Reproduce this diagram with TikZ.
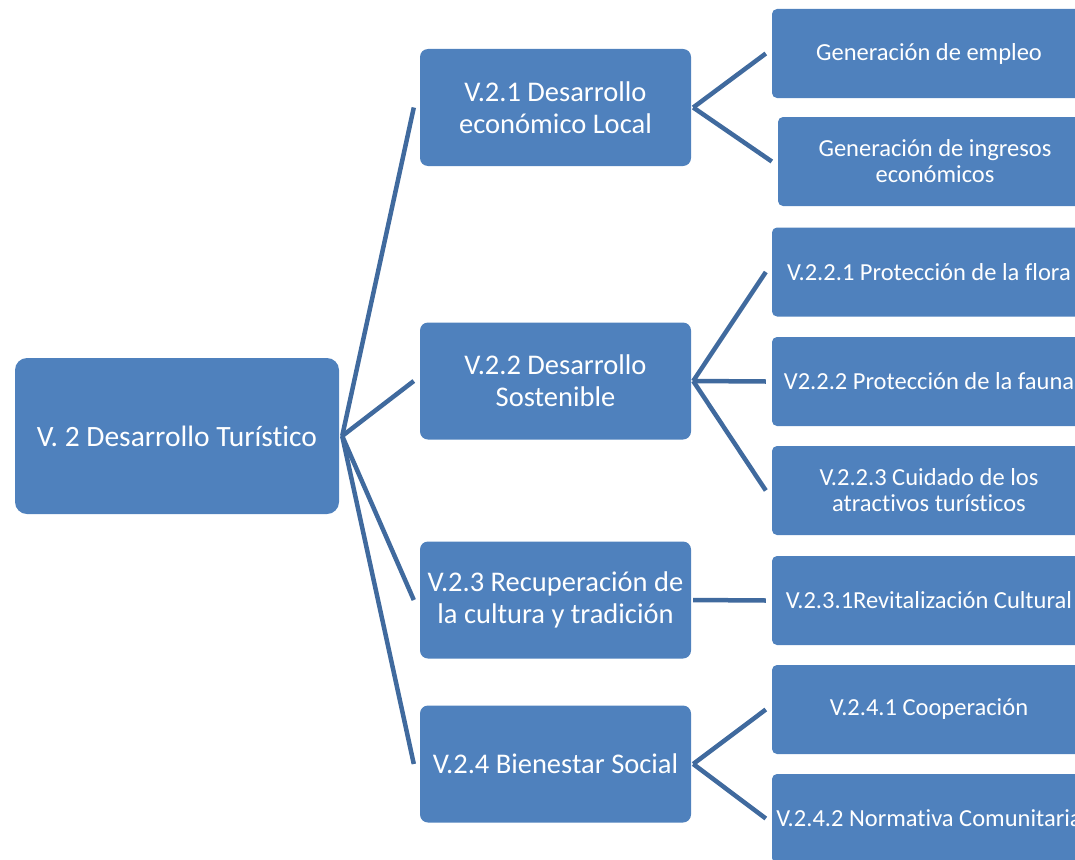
\documentclass[tikz,border=0pt]{standalone}
\usepackage{fontspec}
\setmainfont{Carlito}[Ligatures=NoCommon]
\usepackage{tikz}
\usepackage{xcolor}
\usetikzlibrary{positioning, calc}

\definecolor{boxblue}{RGB}{79,129,189}
\definecolor{lineblue}{RGB}{64,106,158}

\begin{document}
\begin{tikzpicture}[x=1pt, y=-1pt,
    rootbox/.style={rectangle, rounded corners=12pt, fill=boxblue, text=white,
        minimum width=324pt, minimum height=156pt, align=center,
        font=\fontsize{29.5}{32}\selectfont},
    midbox/.style={rectangle, rounded corners=8pt, fill=boxblue, text=white,
        minimum width=271pt, minimum height=117pt, inner xsep=0pt, align=center,
        font=\fontsize{28.5}{32}\selectfont},
    leafbox/.style={rectangle, rounded corners=5pt, fill=boxblue, text=white,
        minimum width=314pt, minimum height=89pt, inner xsep=0pt, align=center,
        font=\fontsize{24.5}{26}\selectfont},
    link/.style={lineblue, line width=4.5pt}]

    \useasboundingbox (0,0) rectangle (1075,859);
    \clip (0,0) rectangle (1075,859);

    % Root node
    \node (root) at (177,436) [rootbox] {V. 2 Desarrollo Turístico};

    % Second level
    \node (d1) at (555.5,107.5) [midbox] {V.2.1 Desarrollo\\económico Local};
    \node (d2) at (555.5,381) [midbox] {V.2.2 Desarrollo\\Sostenible};
    \node (d3) at (555.5,600) [midbox] {V.2.3 Recuperación de\\la cultura y tradición};
    \node (d4) at (555.5,764) [midbox] {V.2.4 Bienestar Social};

    % Third level
    \node (e1) at (929,53.5) [leafbox] {Generación de empleo};
    \node (e2) at (935,161.5) [leafbox] {Generación de ingresos\\económicos};
    \node (s1) at (929,272) [leafbox] {V.2.2.1 Protección de la flora};
    \node (s2) at (929,381.5) [leafbox] {V2.2.2 Protección de la fauna};
    \node (s3) at (929,490.5) [leafbox] {V.2.2.3 Cuidado de los\\atractivos turísticos};
    \node (r1) at (929,600.5) [leafbox] {V.2.3.1Revitalización Cultural};
    \node (b1) at (929,709.5) [leafbox] {V.2.4.1 Cooperación};
    \node (b2) at (929,818.5) [leafbox] {V.2.4.2 Normativa Comunitaria};

    % Links from the root
    \foreach \d in {d1,d2,d3,d4}
        \draw [link] ($(root.east)+(3,0)$) -- ($(\d.west)+(-6,0)$);

    % Links to the leaves
    \foreach \a/\b in {d1/e1, d1/e2, d2/s1, d2/s2, d2/s3, d3/r1, d4/b1, d4/b2}
        \draw [link] ($(\a.east)+(2,0)$) -- ($(\b.west)+(-6,0)$);
\end{tikzpicture}
\end{document}
